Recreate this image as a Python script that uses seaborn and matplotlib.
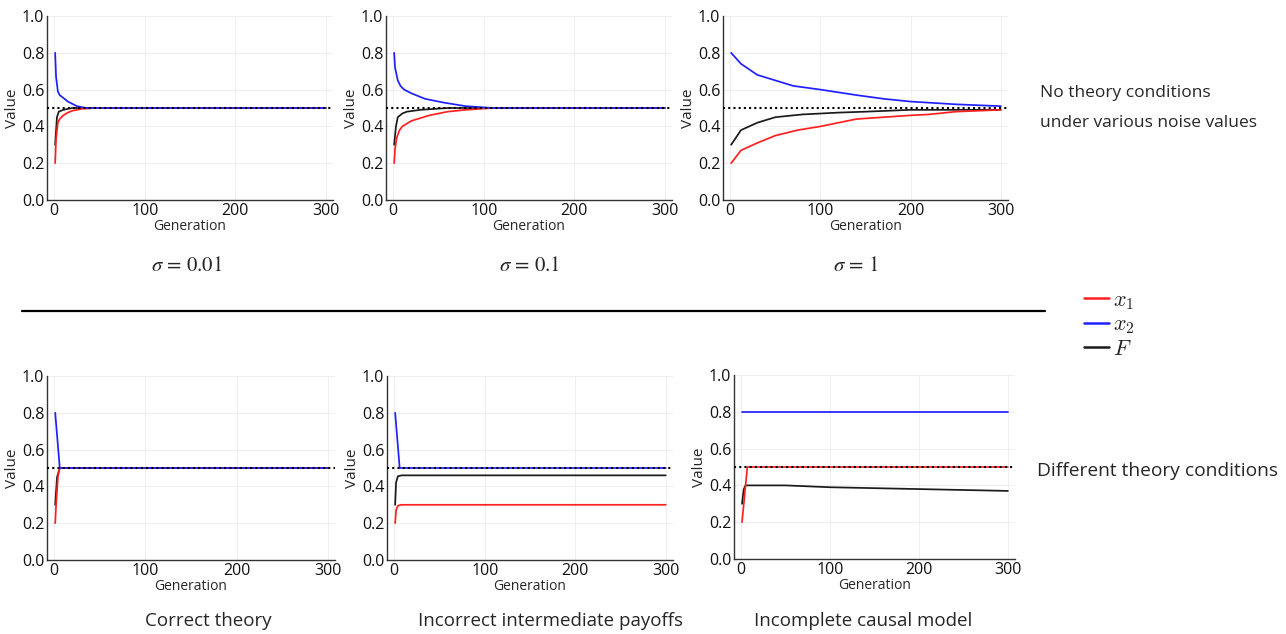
import numpy as np
import pandas as pd
import matplotlib
matplotlib.use("Agg")
import matplotlib.pyplot as plt
from matplotlib.lines import Line2D
from matplotlib.font_manager import FontProperties
import seaborn as sns

# ---------------- data ----------------
# Panel 1: sigma = 0.01
p1_x1_gen = [1, 2, 4, 6, 10, 15, 20, 30, 45, 300]
p1_x1_val = [0.20, 0.33, 0.42, 0.44, 0.46, 0.475, 0.485, 0.495, 0.50, 0.50]
p1_x2_gen = [1, 2, 4, 6, 10, 15, 25, 35, 300]
p1_x2_val = [0.80, 0.67, 0.59, 0.57, 0.555, 0.535, 0.51, 0.50, 0.50]
p1_F_gen = [1, 3, 5, 10, 20, 300]
p1_F_val = [0.30, 0.45, 0.48, 0.49, 0.50, 0.50]

# Panel 2: sigma = 0.1
p2_x1_gen = [1, 2, 4, 7, 10, 20, 30, 40, 60, 80, 110, 300]
p2_x1_val = [0.20, 0.28, 0.34, 0.38, 0.40, 0.43, 0.445, 0.46, 0.48, 0.49, 0.50, 0.50]
p2_x2_gen = [1, 2, 5, 8, 12, 20, 35, 55, 80, 110, 300]
p2_x2_val = [0.80, 0.72, 0.65, 0.62, 0.60, 0.58, 0.55, 0.53, 0.51, 0.50, 0.50]
p2_F_gen = [1, 3, 5, 10, 15, 30, 60, 300]
p2_F_val = [0.30, 0.40, 0.45, 0.47, 0.48, 0.49, 0.50, 0.50]

# Panel 3: sigma = 1
p3_x1_gen = [1, 12, 30, 50, 75, 100, 120, 140, 170, 200, 220, 250, 300]
p3_x1_val = [0.20, 0.27, 0.31, 0.35, 0.38, 0.40, 0.42, 0.44, 0.45, 0.46, 0.465, 0.48, 0.49]
p3_x2_gen = [1, 12, 30, 40, 50, 70, 100, 140, 170, 200, 250, 300]
p3_x2_val = [0.80, 0.74, 0.68, 0.665, 0.65, 0.62, 0.60, 0.57, 0.55, 0.535, 0.52, 0.51]
p3_F_gen = [1, 12, 30, 50, 80, 120, 150, 200, 300]
p3_F_val = [0.30, 0.38, 0.42, 0.45, 0.465, 0.475, 0.48, 0.49, 0.49]

# Panel 4: correct theory
p4_x1_gen = [1, 2, 4, 6, 300]
p4_x1_val = [0.20, 0.30, 0.45, 0.50, 0.50]
p4_x2_gen = [1, 6, 300]
p4_x2_val = [0.80, 0.50, 0.50]
p4_F_gen = [1, 3, 6, 300]
p4_F_val = [0.30, 0.45, 0.50, 0.50]

# Panel 5: incorrect intermediate payoffs
p5_x1_gen = [1, 2, 4, 8, 300]
p5_x1_val = [0.20, 0.27, 0.295, 0.30, 0.30]
p5_x2_gen = [1, 6, 300]
p5_x2_val = [0.80, 0.50, 0.50]
p5_F_gen = [1, 2, 4, 8, 300]
p5_F_val = [0.30, 0.42, 0.455, 0.46, 0.46]

# Panel 6: incomplete causal model
p6_x1_gen = [1, 7, 300]
p6_x1_val = [0.20, 0.50, 0.50]
p6_x2_gen = [1, 100, 300]
p6_x2_val = [0.80, 0.80, 0.80]
p6_F_gen = [1, 3, 5, 50, 100, 200, 300]
p6_F_val = [0.30, 0.38, 0.40, 0.40, 0.39, 0.38, 0.37]

panel_captions = ["$\\sigma$ = 0.01", "$\\sigma$ = 0.1", "$\\sigma$ = 1",
                  "Correct theory", "Incorrect intermediate payoffs", "Incomplete causal model"]
series_names = ["x1", "x2", "F"]
series_labels = ["$x_1$", "$x_2$", "$F$"]
series_colors = {"x1": "#ff2020", "x2": "#2020ff", "F": "#1a1a1a"}
reference_value = 0.5
yticks = [0.0, 0.2, 0.4, 0.6, 0.8, 1.0]
xticks = [0, 100, 200, 300]

panels = [
    (p1_x1_gen, p1_x1_val, p1_x2_gen, p1_x2_val, p1_F_gen, p1_F_val),
    (p2_x1_gen, p2_x1_val, p2_x2_gen, p2_x2_val, p2_F_gen, p2_F_val),
    (p3_x1_gen, p3_x1_val, p3_x2_gen, p3_x2_val, p3_F_gen, p3_F_val),
    (p4_x1_gen, p4_x1_val, p4_x2_gen, p4_x2_val, p4_F_gen, p4_F_val),
    (p5_x1_gen, p5_x1_val, p5_x2_gen, p5_x2_val, p5_F_gen, p5_F_val),
    (p6_x1_gen, p6_x1_val, p6_x2_gen, p6_x2_val, p6_F_gen, p6_F_val),
]

# ---------------- style ----------------
sns.set_style("white")
plt.rcParams["font.family"] = ["Open Sans", "DejaVu Sans"]

W, H = 1286, 634
fig = plt.figure(figsize=(W / 100, H / 100), dpi=100)

# axes boxes in pixels: (left, top, right, bottom)
boxes = [
    (47, 16, 333, 200),
    (386, 16, 672, 200),
    (723, 16, 1008, 200),
    (47, 376, 335, 560),
    (387, 376, 673, 560),
    (734, 375, 1015, 559),
]
caption_pos = [(187, 266), (530, 266), (856, 266), (208, 621), (550, 621), (863, 621)]

for i, (pdata, box) in enumerate(zip(panels, boxes)):
    l, t, r, b = box
    ax = fig.add_axes([l / W, 1 - b / H, (r - l) / W, (b - t) / H])
    frames = []
    for k, name in enumerate(series_names):
        g = pdata[2 * k]
        v = pdata[2 * k + 1]
        frames.append(pd.DataFrame({"Generation": g, "Value": v, "series": name}))
    df = pd.concat(frames, ignore_index=True)
    sns.lineplot(data=df, x="Generation", y="Value", hue="series",
                 palette=series_colors, hue_order=["F", "x1", "x2"],
                 ax=ax, legend=False, linewidth=1.25, estimator=None, sort=False, zorder=3)
    ax.axhline(reference_value, color="black", ls=(0, (1, 1.5)), lw=1.5, zorder=5)
    ax.set_xlim(-8, 308)
    ax.set_ylim(0, 1)
    ax.set_xticks(xticks)
    ax.set_yticks(yticks)
    ax.set_yticklabels([f"{v:.1f}" for v in yticks])
    ax.grid(True, color="#ececec", lw=0.6)
    ax.set_axisbelow(True)
    for s in ["top", "right"]:
        ax.spines[s].set_visible(False)
    for s in ["left", "bottom"]:
        ax.spines[s].set_color("#333333")
        ax.spines[s].set_linewidth(1.0)
    ax.tick_params(axis="both", length=0, pad=2, labelsize=11.5, colors="#111111")
    ax.set_xlabel("Generation", fontsize=10, labelpad=0)
    ax.set_ylabel("Value", fontsize=11, labelpad=1)
    cx, cy = caption_pos[i]
    if i < 3:
        fig.text(cx / W, 1 - cy / H, panel_captions[i], ha="center", va="center",
                 fontsize=15, family="STIXGeneral", math_fontfamily="stix")
    else:
        fig.text(cx / W, 1 - cy / H, panel_captions[i], ha="center", va="center",
                 fontsize=13.5)

# separator line
fig.add_artist(Line2D([22 / W, 1045 / W], [1 - 311 / H, 1 - 311 / H],
                      color="black", lw=1.6))

# side texts
fig.text(1040 / W, 1 - 93 / H, "No theory conditions", ha="left", va="center", fontsize=12.5)
fig.text(1040 / W, 1 - 123 / H, "under various noise values", ha="left", va="center", fontsize=12.5)
fig.text(1037 / W, 1 - 471 / H, "Different theory conditions",
         ha="left", va="center", fontsize=13.8)

# legend
handles = [Line2D([0], [0], color=series_colors[n], lw=1.8) for n in series_names]
fig.legend(handles, series_labels, loc="upper left",
           bbox_to_anchor=(1073 / W, 1 - 279 / H), frameon=False,
           prop=FontProperties(size=16, math_fontfamily="cm"),
           handlelength=1.1, handletextpad=0.2, labelspacing=0.12, borderpad=0)

fig.savefig("out.png", dpi=100)
